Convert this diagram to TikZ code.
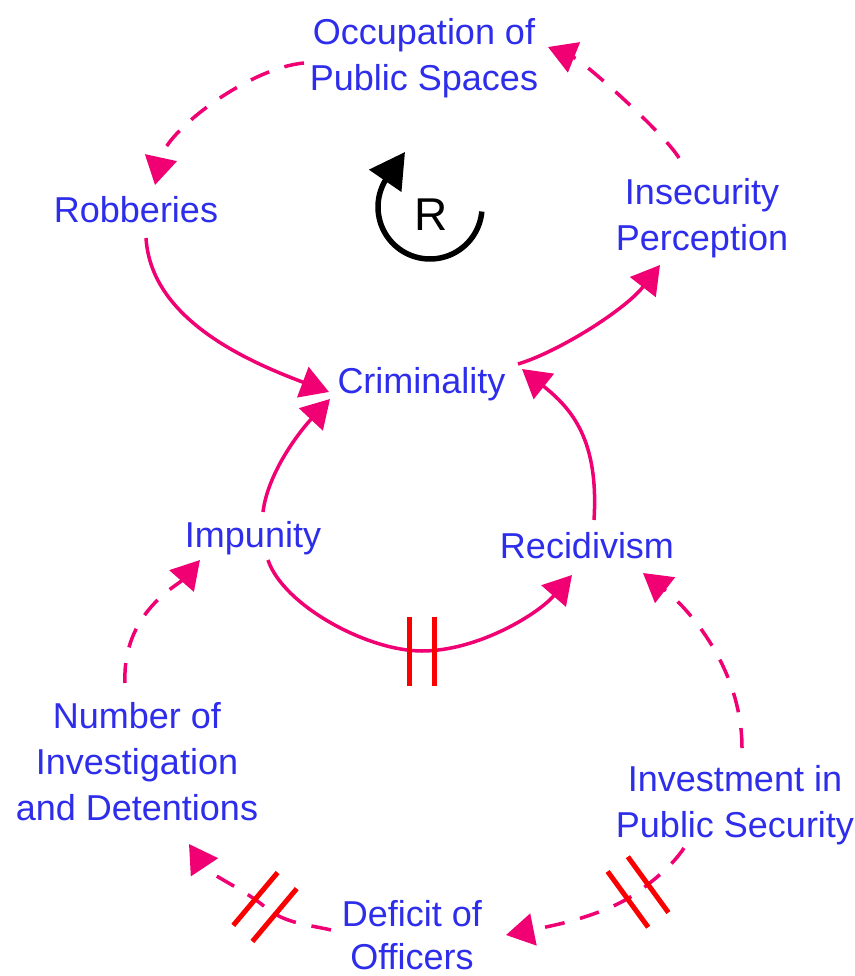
\documentclass[tikz,border=0pt]{standalone}
\usepackage{fontspec}
\setmainfont{Liberation Sans}
\usetikzlibrary{arrows.meta}
\definecolor{linkpink}{RGB}{240,0,115}
\definecolor{delayred}{RGB}{250,0,0}
\definecolor{varblue}{RGB}{45,45,235}
\tikzset{
  var/.style={text=varblue, font=\fontsize{36}{46}\selectfont, inner sep=0pt, align=center},
  link/.style={draw=linkpink, line width=3.5pt, -{Triangle[length=28pt,width=32pt]}},
  dashlink/.style={link, dash pattern=on 20pt off 16pt},
  delaymark/.pic={\draw[solid, draw=delayred, line width=5pt] (-12.5,-34.5) -- (-12.5,34.5) (12.5,-34.5) -- (12.5,34.5);},
}
\begin{document}
\begin{tikzpicture}[x=1pt,y=-1pt]
\useasboundingbox[fill=white] (0,0) rectangle (854,976);

% variables
\node[var, anchor=north] (occ) at (424,18) {Occupation of\\Public Spaces};
\node[var, anchor=base] (rob) at (136,223) {Robberies};
\node[var, anchor=north] (ins) at (702,178) {Insecurity\\Perception};
\node[var, anchor=base] (crim) at (421.5,393) {Criminality};
\node[var, anchor=base] (imp) at (253,547) {Impunity};
\node[var, anchor=base] (rec) at (587,558) {Recidivism};
\node[var, anchor=north] (num) at (137,702) {Number of\\Investigation\\and Detentions};
\node[var, anchor=north] (inv) at (735,765) {Investment in\\Public Security};
\node[var, anchor=north, font=\fontsize{36}{43}\selectfont] (def) at (412,900) {Deficit of\\Officers};

% loop symbol
\node[font=\fontsize{46}{50}\selectfont, anchor=base, inner sep=0pt] (rsign) at (431,230) {R};
\draw[line width=5.5pt, -{Triangle[length=35pt,width=38pt]}]
  plot[domain=5:209, samples=60] ({430+52*cos(\x)},{207+52*sin(\x)}) -- (405,152);

% solid links
\draw[link] ([shift={(10,15)}]rob.base) .. controls +(5,80) and +(-85,-32) .. ([shift={(-92.5,-1)}]crim.base);
\draw[link] ([shift={(10,-35)}]imp.base) .. controls +(5,-40) and +(-30,32) .. ([shift={(-91.5,6)}]crim.base);
\draw[link] ([shift={(96.5,-29)}]crim.base) .. controls +(40,-12) and +(-35,45) .. ([shift={(-42,87)}]ins.north);
\draw[link] ([shift={(7,-38)}]rec.base) .. controls +(5,-80) and +(50,40) .. ([shift={(100.5,-24)}]crim.base);

\coordinate (dm1) at (422,651);
\draw[link] ([shift={(15,13)}]imp.base) .. controls +(15,45) and +(-55,0) .. (dm1)
  .. controls +(55,0) and +(-35,40) .. ([shift={(-15,17)}]rec.base);
\pic at (dm1) {delaymark};

% dashed links
\draw[dashlink] ([shift={(-23,-20)}]ins.north) .. controls +(-15,-25) and +(35,14) .. ([shift={(124,29)}]occ.north);
\draw[dashlink] ([shift={(-120,45)}]occ.north) .. controls +(-55,5) and +(12,-55) .. ([shift={(19,-38)}]rob.base);
\draw[dashlink] ([shift={(-12,-19)}]num.north) .. controls +(-3,-70) and +(-22,25) .. ([shift={(-53,13)}]imp.base);
\draw[dashlink] ([shift={(7,-17)}]inv.north) .. controls +(0,-80) and +(45,35) .. ([shift={(56,15)}]rec.base);

\coordinate (dm2) at (638,892);
\draw[dashlink] ([shift={(-51,83)}]inv.north) .. controls +(-12,18) and +(16,-12) .. (dm2)
  .. controls +(-35,25) and +(40,-8) .. ([shift={(94,35)}]def.north);
\pic[rotate=36] at (dm2) {delaymark};

\coordinate (dm3) at (265,907);
\draw[dashlink] ([shift={(-81,30)}]def.north) .. controls +(-20,-5) and +(20,17) .. (dm3)
  .. controls +(-20,-17) and +(20,30) .. ([shift={(52,142)}]num.north);
\pic[rotate=-40] at (dm3) {delaymark};
\end{tikzpicture}
\end{document}
